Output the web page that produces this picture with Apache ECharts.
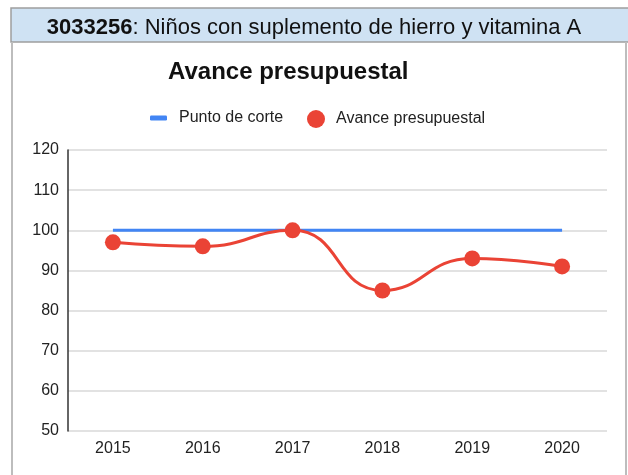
<!DOCTYPE html>
<html>
<head>
<meta charset="utf-8">
<script src="https://cdn.jsdelivr.net/npm/echarts@6/dist/echarts.min.js"></script>
<style>
  html, body { margin: 0; padding: 0; background: #fff; }
  #chart { width: 628px; height: 475px; }
</style>
</head>
<body>
<div id="chart"></div>
<script>
// datos
const years = ['2015', '2016', '2017', '2018', '2019', '2020']
const puntoCorte = [100, 100, 100, 100, 100, 100]
const avance = [97, 96, 100, 85, 93, 91]

const headerCode = '3033256'
const headerText = ': Niños con suplemento de hierro y vitamina A'
const chartTitle = 'Avance presupuestal'

const FONT = '"Liberation Sans", Arial, sans-serif'

const chart = echarts.init(document.getElementById('chart'))

chart.setOption({
  animation: false,
  textStyle: { fontFamily: FONT },
  graphic: [
    {
      type: 'rect',
      z: 0,
      shape: { x: 11, y: 8, width: 620, height: 34 },
      style: { fill: '#cfe2f3', stroke: '#9e9e9e', lineWidth: 1.5 }
    },
    {
      type: 'line',
      shape: { x1: 12, y1: 42, x2: 12, y2: 475 },
      style: { stroke: '#bdbdbd', lineWidth: 2 }
    },
    {
      type: 'line',
      shape: { x1: 626, y1: 42, x2: 626, y2: 475 },
      style: { stroke: '#bdbdbd', lineWidth: 2 }
    }
  ],
  title: [
    {
      text: '{b|' + headerCode + '}' + headerText,
      left: 'center',
      top: 12,
      textStyle: {
        fontFamily: FONT,
        fontSize: 22,
        fontWeight: 'normal',
        color: '#111',
        rich: {
          b: { fontFamily: FONT, fontSize: 22, fontWeight: 'bold', color: '#111' }
        }
      }
    },
    {
      text: chartTitle,
      left: 163,
      top: 55,
      textStyle: { fontFamily: FONT, fontSize: 24, fontWeight: 'bold', color: '#111' }
    }
  ],
  legend: [
    {
      left: 150,
      top: 110,
      padding: 0,
      data: [{ name: 'Punto de corte', icon: 'roundRect' }],
      itemWidth: 17,
      itemHeight: 5,
      textStyle: { fontFamily: FONT, fontSize: 16, color: '#222', padding: [0, 0, 0, 7] }
    },
    {
      left: 307,
      top: 110,
      padding: 0,
      data: [{ name: 'Avance presupuestal', icon: 'circle' }],
      itemWidth: 18,
      itemHeight: 18,
      textStyle: { fontFamily: FONT, fontSize: 16, color: '#222', padding: [0, 0, 0, 6] }
    }
  ],
  grid: {
    left: 68,
    right: 21,
    top: 150,
    bottom: 44,
    containLabel: false,
    outerBoundsMode: 'none'
  },
  xAxis: {
    type: 'category',
    data: years,
    boundaryGap: true,
    axisLine: { show: false },
    axisTick: { show: false },
    axisLabel: { fontFamily: FONT, fontSize: 16, color: '#222', margin: 10 }
  },
  yAxis: {
    type: 'value',
    min: 50,
    max: 120,
    interval: 10,
    axisLine: { show: true, lineStyle: { color: '#333', width: 1.5 } },
    axisTick: { show: false },
    axisLabel: { fontFamily: FONT, fontSize: 16, color: '#222', margin: 9 },
    splitLine: { lineStyle: { color: '#e2e2e2', width: 2 } }
  },
  series: [
    {
      name: 'Punto de corte',
      type: 'line',
      data: puntoCorte,
      showSymbol: false,
      color: '#4285f4',
      lineStyle: { width: 3, color: '#4285f4' },
      z: 2
    },
    {
      name: 'Avance presupuestal',
      type: 'line',
      data: avance,
      smooth: 0.5,
      symbol: 'circle',
      symbolSize: 16,
      color: '#ea4335',
      itemStyle: { color: '#ea4335' },
      lineStyle: { width: 3, color: '#ea4335' },
      z: 3
    }
  ]
})
</script>
</body>
</html>
